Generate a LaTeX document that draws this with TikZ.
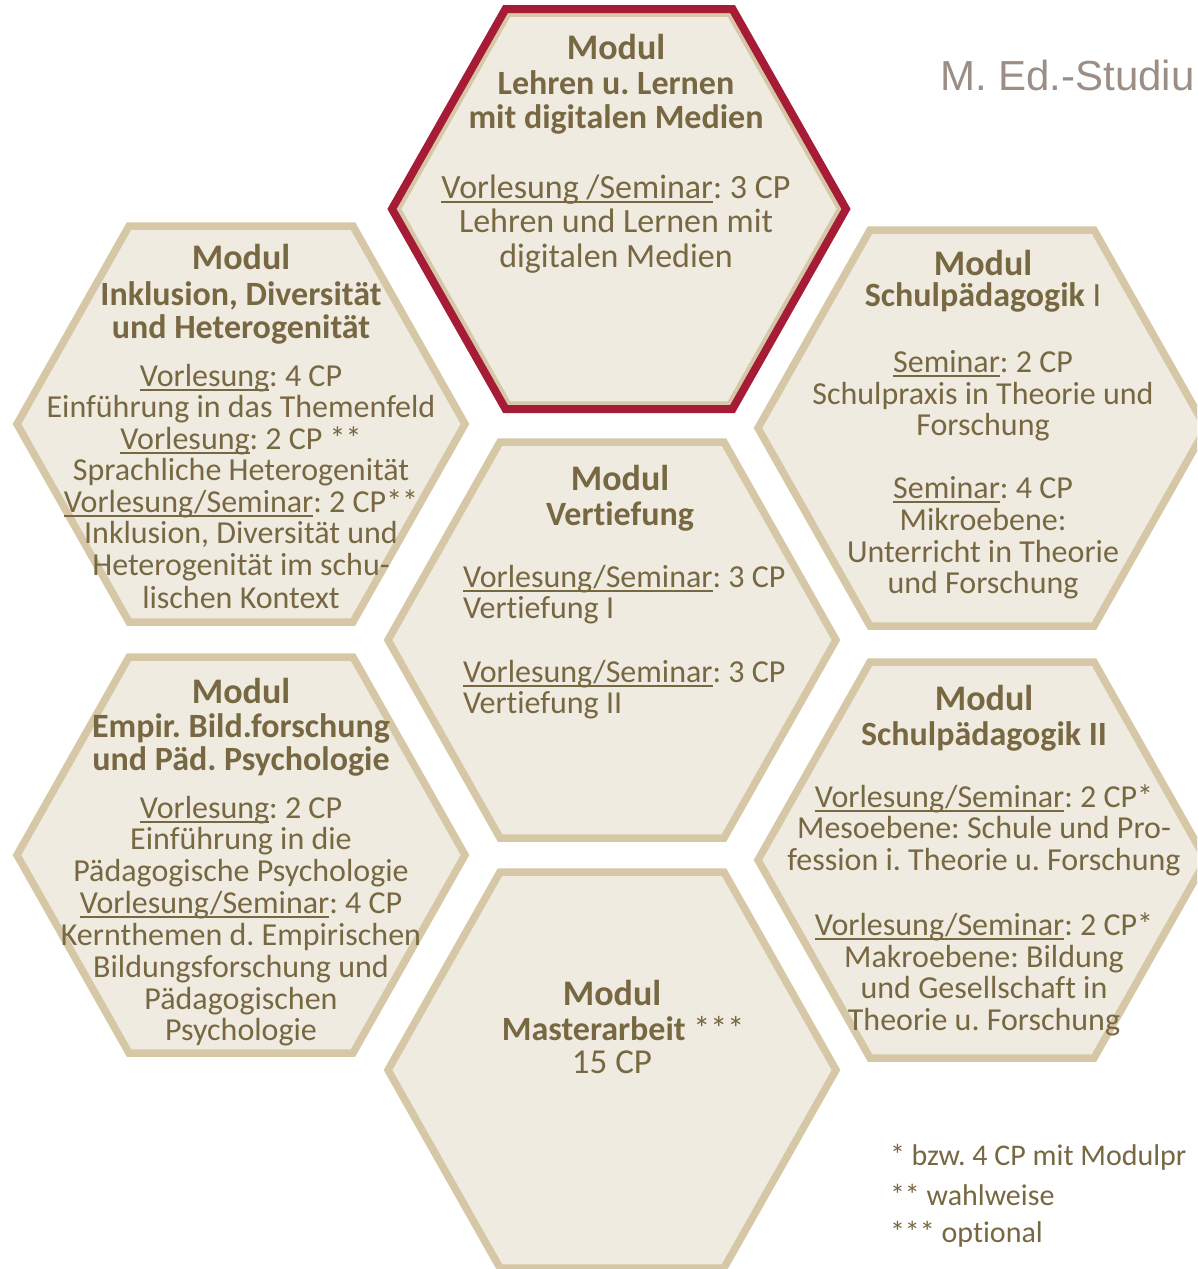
\documentclass[tikz,border=0pt]{standalone}
\usepackage{fontspec}
\setmainfont{Carlito}[Ligatures={NoCommon}]
\newfontfamily\headfont{Liberation Sans}
\frenchspacing
\definecolor{txt}{RGB}{120,104,66}
\definecolor{hexbg}{RGB}{239,235,225}
\definecolor{hexline}{RGB}{214,200,166}
\definecolor{hexred}{RGB}{166,28,55}
\definecolor{headgray}{RGB}{156,142,133}
\newcommand\myul[1]{\setbox0=\hbox{#1}\rlap{\rule[-4.6pt]{\wd0}{1.9pt}}\box0}
\newcommand\fM{\fontsize{36}{40}\selectfont\bfseries}
\newcommand\fB{\fontsize{34}{38}\selectfont\bfseries}
\newcommand\fT{\fontsize{34}{38}\selectfont}
\newcommand\fS{\fontsize{32}{36}\selectfont}
\newcommand\fN{\fontsize{30}{34}\selectfont}
% hexagon: #1 style, #2 name, #3 cx, #4 cy, #5 half width, #6 half height
\newcommand\hexshape[6]{%
  \coordinate (#2) at (#3,#4);
  \path[#1] ({#3-#5},#4) -- ({#3-#5/2},{#4-#6}) -- ({#3+#5/2},{#4-#6})
    -- ({#3+#5},#4) -- ({#3+#5/2},{#4+#6}) -- ({#3-#5/2},{#4+#6}) -- cycle;}
\newcommand\Ln[4]{\node[ln] (#1) at (#2,#3) {#4};}
\newcommand\Lw[4]{\node[lnw] (#1) at (#2,#3) {#4};}
\tikzset{
  hexbox/.style={fill=hexbg, draw=hexline, line width=7.5pt, line join=miter},
  redrim/.style={draw=hexred, line width=8pt, line join=miter},
  ln/.style={anchor=base, inner sep=0pt, outer sep=0pt, text=txt},
  lnw/.style={ln, anchor=base west},
}
\begin{document}
\begin{tikzpicture}[x=1pt,y=-1pt]
\useasboundingbox (0,0) rectangle (1197,1269);
\clip (0,0) rectangle (1197,1269);
\fill[white] (0,0) rectangle (1197,1269);

% hexagons
\hexshape{hexbox}{hTop}{619}{209}{222}{196}
\hexshape{redrim}{hTopRim}{619}{209}{227}{200}
\hexshape{hexbox}{hInk}{241}{424}{224}{198}
\hexshape{hexbox}{hEmp}{241}{855}{224}{198}
\hexshape{hexbox}{hVer}{612}{640}{224}{198}
\hexshape{hexbox}{hMas}{612}{1070}{224}{198}
\hexshape{hexbox}{hSP1}{982}{428}{224}{198}
\hexshape{hexbox}{hSP2}{982}{860}{224}{198}

% heading
\node[anchor=base west, inner sep=0pt, text=headgray, font=\headfont\fontsize{42}{46}\selectfont] (head) at (940,90) {M. Ed.-Studiu};

% top module
\Ln{t0}{616}{59}{\fM Modul}
\Ln{t1}{616}{94}{\fB Lehren u. Lernen}
\Ln{t2}{616}{128}{\fB mit digitalen Medien}
\Ln{t3}{616}{198}{\fT\myul{Vorlesung /Seminar}: 3 CP}
\Ln{t4}{616}{232}{\fT Lehren und Lernen mit}
\Ln{t5}{616}{267}{\fT digitalen Medien}

% Inklusion
\Ln{i0}{241}{269}{\fM Modul}
\Ln{i1}{241}{305}{\fB Inklusion, Diversität}
\Ln{i2}{241}{338}{\fB und Heterogenität}
\Ln{i3}{241}{386}{\fS\myul{Vorlesung}: 4 CP}
\Ln{i4}{241}{417}{\fS Einführung in das Themenfeld}
\Ln{i5}{241}{449}{\fS\myul{Vorlesung}: 2 CP **}
\Ln{i6}{241}{480}{\fS Sprachliche Heterogenität}
\Ln{i7}{241}{512}{\fS\myul{Vorlesung/Seminar}: 2 CP**}
\Ln{i8}{241}{543}{\fS Inklusion, Diversität und}
\Ln{i9}{241}{575}{\fS Heterogenität im schu-}
\Ln{i10}{241}{608}{\fS lischen Kontext}

% Empirische Bildungsforschung
\Ln{e0}{241}{703}{\fM Modul}
\Ln{e1}{241}{737}{\fB Empir. Bild.forschung}
\Ln{e2}{241}{770}{\fB und Päd. Psychologie}
\Ln{e3}{241}{818}{\fS\myul{Vorlesung}: 2 CP}
\Ln{e4}{241}{849}{\fS Einführung in die}
\Ln{e5}{241}{881}{\fS Pädagogische Psychologie}
\Ln{e6}{241}{913}{\fS\myul{Vorlesung/Seminar}: 4 CP}
\Ln{e7}{241}{945}{\fS Kernthemen d. Empirischen}
\Ln{e8}{241}{977}{\fS Bildungsforschung und}
\Ln{e9}{241}{1009}{\fS Pädagogischen}
\Ln{e10}{241}{1040}{\fS Psychologie}

% Schulpaedagogik I
\Ln{s0}{983}{275}{\fM Modul}
\Ln{s1}{983}{306}{\fB Schulpädagogik \mdseries I}
\Ln{s2}{983}{372}{\fS\myul{Seminar}: 2 CP}
\Ln{s3}{983}{404}{\fS Schulpraxis in Theorie und}
\Ln{s4}{983}{435}{\fS Forschung}
\Ln{s5}{983}{498}{\fS\myul{Seminar}: 4 CP}
\Ln{s6}{983}{530}{\fS Mikroebene:}
\Ln{s7}{983}{562}{\fS Unterricht in Theorie}
\Ln{s8}{983}{593}{\fS und Forschung}

% Schulpaedagogik II
\Ln{p0}{984}{710}{\fM Modul}
\Ln{p1}{984}{745}{\fB Schulpädagogik II}
\Ln{p2}{984}{807}{\fS\myul{Vorlesung/Seminar}: 2 CP*}
\Ln{p3}{984}{838}{\fS Mesoebene: Schule und Pro-}
\Ln{p4}{984}{870}{\fS fession i. Theorie u. Forschung}
\Ln{p5}{984}{935}{\fS\myul{Vorlesung/Seminar}: 2 CP*}
\Ln{p6}{984}{967}{\fS Makroebene: Bildung}
\Ln{p7}{984}{998}{\fS und Gesellschaft in}
\Ln{p8}{984}{1030}{\fS Theorie u. Forschung}

% Vertiefung
\Ln{v0}{620}{490}{\fM Modul}
\Ln{v1}{620}{525}{\fB Vertiefung}
\Lw{v2}{463}{587}{\fS\myul{Vorlesung/Seminar}: 3 CP}
\Lw{v3}{463}{618}{\fS Vertiefung I}
\Lw{v4}{463}{682}{\fS\myul{Vorlesung/Seminar}: 3 CP}
\Lw{v5}{463}{713}{\fS Vertiefung II}

% Masterarbeit
\Ln{m0}{612}{1005}{\fM Modul}
\Ln{m1}{623}{1040}{\fB Masterarbeit \mdseries ***}
\Ln{m2}{612}{1073}{\fontsize{35}{38}\selectfont 15 CP}

% footnotes
\Lw{f1}{890}{1165}{\fN * bzw. 4 CP mit Modulpr}
\Lw{f2}{890}{1205}{\fN ** wahlweise}
\Lw{f3}{890}{1242}{\fN *** optional}
\end{tikzpicture}
\end{document}
